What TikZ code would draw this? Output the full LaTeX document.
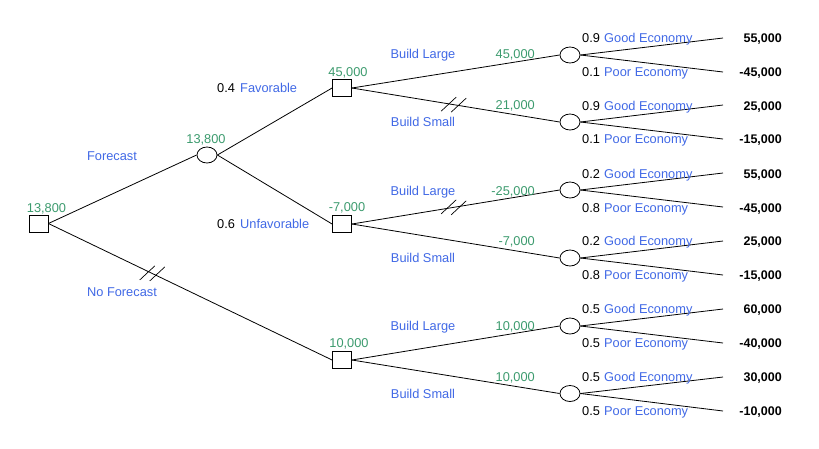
\documentclass[tikz,border=0pt]{standalone}
\usepackage{fontspec}
\setmainfont{Liberation Sans}
\usetikzlibrary{shapes.geometric,calc}
\definecolor{lblblue}{RGB}{65,105,230}
\definecolor{valgreen}{RGB}{60,155,110}
\begin{document}
\begin{tikzpicture}[x=1pt,y=-1pt,
  every node/.style={font=\fontsize{12.8}{14}\selectfont, inner sep=0pt, text height=9pt, text depth=0pt},
  decision/.style={draw, rectangle, minimum width=19pt, minimum height=17pt, fill=white, line width=0.8pt, text height=0pt},
  chance/.style={draw, ellipse, minimum width=20pt, minimum height=16pt, fill=white, line width=0.8pt, text height=0pt},
  branch/.style={line width=0.8pt},
  ev/.style={text=valgreen},
  lbl/.style={text=lblblue},
  prob/.style={text=black, anchor=west},
  outc/.style={text=lblblue, anchor=west},
  payoff/.style={font=\fontsize{12.5}{14}\selectfont\bfseries, anchor=east},
  hash/.pic={\draw[line width=0.7pt] (-12.5,6.5) -- (2.5,-7.5) (-2.5,7.5) -- (12.5,-6.5);}
]
\useasboundingbox[fill=white] (0,0) rectangle (819,448);

% nodes
\node[decision] (root) at (38.5,223.5) {};
\node[chance] (c0) at (207,155) {};
\node[decision] (d1) at (342,88) {};
\node[decision] (d2) at (342,224) {};
\node[decision] (d3) at (342,360) {};
\node[chance] (c1) at (570,55) {};
\node[chance] (c2) at (570,122) {};
\node[chance] (c3) at (570,190) {};
\node[chance] (c4) at (570,258) {};
\node[chance] (c5) at (570,326) {};
\node[chance] (c6) at (570,393.5) {};

\foreach \i/\y in {1/38,2/72,3/105,4/139,5/173,6/207,7/241,8/275,9/309,10/343,11/377,12/411}
  \coordinate (e\i) at (723,\y);

% branches
\draw[branch] (root.east) -- (c0.west);
\draw[branch] (root.east) -- (d3.west);
\draw[branch] (c0.east) -- (d1.west);
\draw[branch] (c0.east) -- (d2.west);
\draw[branch] (d1.east) -- (c1.west);
\draw[branch] (d1.east) -- (c2.west);
\draw[branch] (d2.east) -- (c3.west);
\draw[branch] (d2.east) -- (c4.west);
\draw[branch] (d3.east) -- (c5.west);
\draw[branch] (d3.east) -- (c6.west);
\draw[branch] (c1.east) -- (e1); \draw[branch] (c1.east) -- (e2);
\draw[branch] (c2.east) -- (e3); \draw[branch] (c2.east) -- (e4);
\draw[branch] (c3.east) -- (e5); \draw[branch] (c3.east) -- (e6);
\draw[branch] (c4.east) -- (e7); \draw[branch] (c4.east) -- (e8);
\draw[branch] (c5.east) -- (e9); \draw[branch] (c5.east) -- (e10);
\draw[branch] (c6.east) -- (e11); \draw[branch] (c6.east) -- (e12);

% hash marks
\coordinate (h1) at ($(root.east)!0.366!(d3.west)$);
\coordinate (h2) at ($(d1.east)!0.49!(c2.west)$);
\coordinate (h3) at ($(d2.east)!0.49!(c3.west)$);
\pic at (h1) {hash};
\pic at (h2) {hash};
\pic at (h3) {hash};

% expected values
\node[ev] (v0) at (46.5,208) {13,800};
\node[ev] (vc0) at (206,139) {13,800};
\node[ev] (vd1) at (348,72) {45,000};
\node[ev] (vd2) at (347,207) {-7,000};
\node[ev] (vd3) at (349,343) {10,000};
\node[ev, anchor=east] (vc1) at (535,54) {45,000};
\node[ev, anchor=east] (vc2) at (535,105) {21,000};
\node[ev, anchor=east] (vc3) at (535,191) {-25,000};
\node[ev, anchor=east] (vc4) at (535,241) {-7,000};
\node[ev, anchor=east] (vc5) at (535,326) {10,000};
\node[ev, anchor=east] (vc6) at (535,377) {10,000};

% decision labels
\node[lbl] (lf) at (112,156) {Forecast};
\node[lbl] (lnf) at (122,292) {No Forecast};
\node[prob] (p04) at (217,88) {0.4};
\node[outc] (lfav) at (240,88) {Favorable};
\node[prob] (p06) at (217,224) {0.6};
\node[outc] (lunf) at (240,224) {Unfavorable};
\node[lbl] (bl1) at (423,54) {Build Large};
\node[lbl] (bs1) at (423,122) {Build Small};
\node[lbl] (bl2) at (423,191) {Build Large};
\node[lbl] (bs2) at (423,258) {Build Small};
\node[lbl] (bl3) at (423,326) {Build Large};
\node[lbl] (bs3) at (423,394) {Build Small};

% outcome labels and payoffs
\foreach \i/\y/\p/\o/\v in {
  1/38/0.9/Good Economy/55{,}000,
  2/72/0.1/Poor Economy/-45{,}000,
  3/106/0.9/Good Economy/25{,}000,
  4/139/0.1/Poor Economy/-15{,}000,
  5/174/0.2/Good Economy/55{,}000,
  6/208/0.8/Poor Economy/-45{,}000,
  7/241/0.2/Good Economy/25{,}000,
  8/275/0.8/Poor Economy/-15{,}000,
  9/309/0.5/Good Economy/60{,}000,
  10/343/0.5/Poor Economy/-40{,}000,
  11/377/0.5/Good Economy/30{,}000,
  12/411/0.5/Poor Economy/-10{,}000}
{
  \node[prob] (pr\i) at (582,\y) {\p};
  \node[outc] (oc\i) at (604,\y) {\o};
  \node[payoff] (pay\i) at (782,\y) {\v};
}
\end{tikzpicture}
\end{document}
